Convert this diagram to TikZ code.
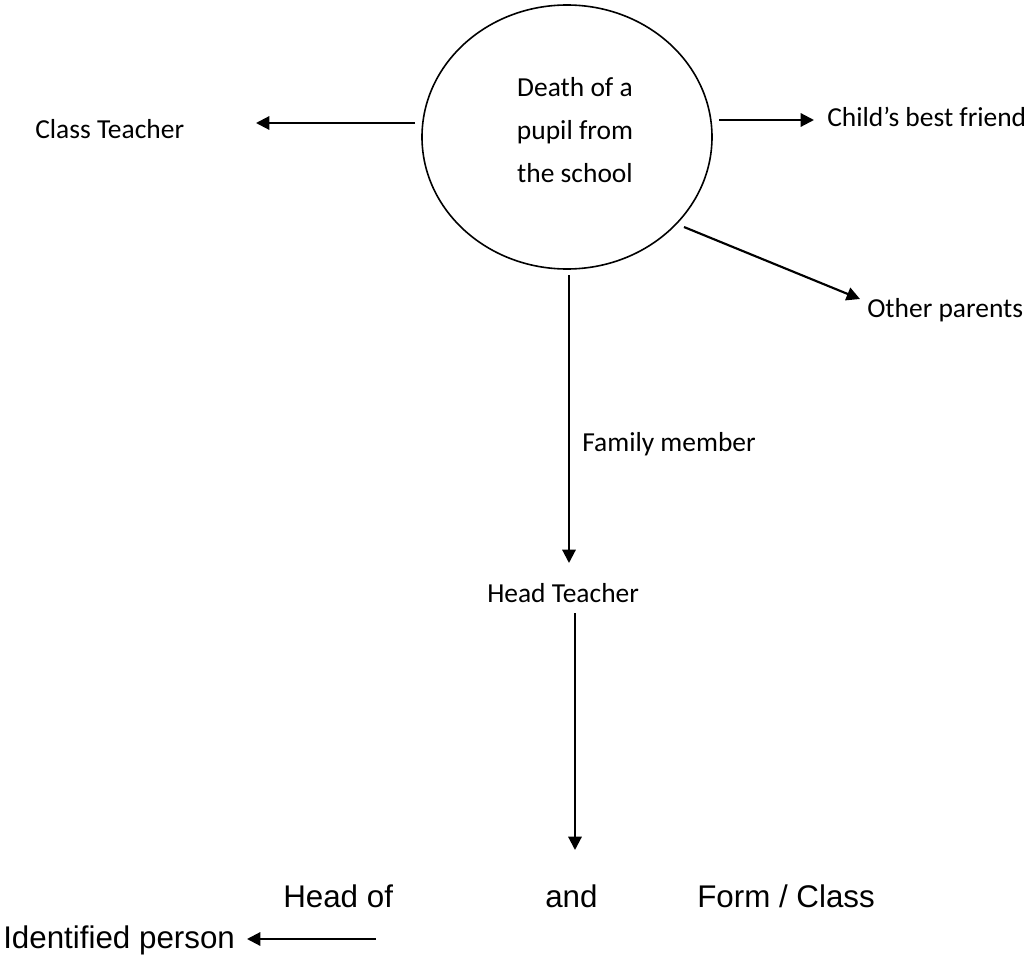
\documentclass[tikz,border=0pt]{standalone}
\usepackage{fontspec}
\setmainfont{Carlito}
\newfontfamily\arialfont{Liberation Sans}
\usetikzlibrary{arrows.meta,shapes.geometric}
\tikzset{
  lbl/.style={inner sep=0pt, anchor=base west, font=\fontsize{20.6pt}{24pt}\selectfont},
  biglbl/.style={inner sep=0pt, anchor=base west, font=\arialfont\fontsize{23.5pt}{27pt}\selectfont},
  ctext/.style={inner sep=0pt, anchor=base, font=\fontsize{20.6pt}{24pt}\selectfont},
  arr/.style={line width=1.6pt, -{Triangle[length=10pt,width=10pt]}},
  ring/.style={draw, ellipse, line width=1.2pt, inner sep=0pt, minimum width=217.5pt, minimum height=198pt}
}
\begin{document}
\begin{tikzpicture}[x=0.75pt, y=-0.75pt]
\useasboundingbox (0,0) rectangle (1033,956);
% central circle
\node[ring] (circ) at (567,137) {};
\node[ctext] (l1) at (575,97) {Death of a};
\node[ctext] (l2) at (575,139.5) {pupil from};
\node[ctext] (l3) at (575,182) {the school};
% labels
\node[lbl] (ct) at (35,139) {Class Teacher};
\node[lbl] (cbf) at (827,127) {Child’s best friend};
\node[lbl] (op) at (867,317) {Other parents};
\node[lbl] (fm) at (582,451) {Family member};
\node[lbl] (ht) at (487,602) {Head Teacher};
\node[biglbl] (hof) at (283,907) {Head of};
\node[biglbl] (and) at (545,907) {and};
\node[biglbl] (fc) at (697,907) {Form / Class};
\node[biglbl] (ip) at (3,948) {Identified person};
% connector ends
\coordinate (ctS) at (415,123);
\coordinate (ctE) at (256,123);
\coordinate (cbfS) at (719,120);
\coordinate (cbfE) at (814,120);
\coordinate (opS) at (684,227);
\coordinate (opE) at (860,299);
\coordinate (htS) at (569,275);
\coordinate (htE) at (569,563);
\coordinate (andS) at (575,613);
\coordinate (andE) at (575,850);
\coordinate (ipS) at (376,939);
\coordinate (ipE) at (247,939);
% connectors
\draw[arr] (ctS) -- (ctE);
\draw[arr] (cbfS) -- (cbfE);
\draw[arr] (opS) -- (opE);
\draw[arr] (htS) -- (htE);
\draw[arr] (andS) -- (andE);
\draw[arr] (ipS) -- (ipE);
\end{tikzpicture}
\end{document}
